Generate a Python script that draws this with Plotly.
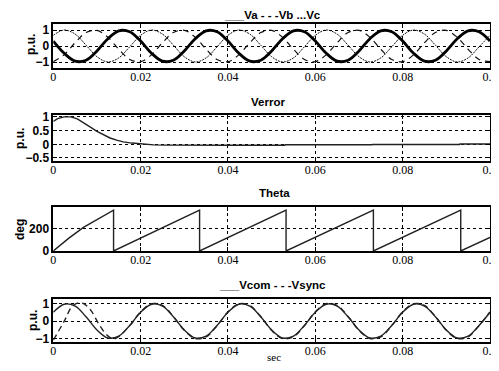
import plotly.graph_objects as go

# ---------------- data ----------------
t = [0.0, 0.0025, 0.005, 0.0075, 0.01, 0.0125, 0.015, 0.0175,
     0.02, 0.0225, 0.025, 0.0275, 0.03, 0.0325, 0.035, 0.0375,
     0.04, 0.0425, 0.045, 0.0475, 0.05, 0.0525, 0.055, 0.0575,
     0.06, 0.0625, 0.065, 0.0675, 0.07, 0.0725, 0.075, 0.0775,
     0.08, 0.0825, 0.085, 0.0875, 0.09, 0.0925, 0.095, 0.0975, 0.1]

va = [0.309, -0.454, -0.951, -0.891, -0.309, 0.454, 0.951, 0.891,
      0.309, -0.454, -0.951, -0.891, -0.309, 0.454, 0.951, 0.891,
      0.309, -0.454, -0.951, -0.891, -0.309, 0.454, 0.951, 0.891,
      0.309, -0.454, -0.951, -0.891, -0.309, 0.454, 0.951, 0.891,
      0.309, -0.454, -0.951, -0.891, -0.309, 0.454, 0.951, 0.891, 0.309]
vb = [-0.978, -0.545, 0.208, 0.839, 0.978, 0.545, -0.208, -0.839,
      -0.978, -0.545, 0.208, 0.839, 0.978, 0.545, -0.208, -0.839,
      -0.978, -0.545, 0.208, 0.839, 0.978, 0.545, -0.208, -0.839,
      -0.978, -0.545, 0.208, 0.839, 0.978, 0.545, -0.208, -0.839,
      -0.978, -0.545, 0.208, 0.839, 0.978, 0.545, -0.208, -0.839, -0.978]
vc = [0.669, 0.999, 0.743, 0.052, -0.669, -0.999, -0.743, -0.052,
      0.669, 0.999, 0.743, 0.052, -0.669, -0.999, -0.743, -0.052,
      0.669, 0.999, 0.743, 0.052, -0.669, -0.999, -0.743, -0.052,
      0.669, 0.999, 0.743, 0.052, -0.669, -0.999, -0.743, -0.052,
      0.669, 0.999, 0.743, 0.052, -0.669, -0.999, -0.743, -0.052, 0.669]

t_err = [0.0, 0.001, 0.0025, 0.004, 0.0055, 0.007, 0.0085, 0.01, 0.0115,
         0.013, 0.0145, 0.016, 0.018, 0.02, 0.023, 0.026, 0.03, 0.04,
         0.053, 0.0531, 0.073, 0.0731, 0.093, 0.0931, 0.1]
v_err = [0.84, 0.94, 1.0, 1.0, 0.93, 0.79, 0.63, 0.47, 0.34,
         0.23, 0.15, 0.09, 0.045, 0.01, -0.02, -0.03, -0.035, -0.035,
         -0.035, -0.015, -0.015, -0.005, -0.005, 0.01, 0.01]

t_theta = [0.0, 0.0035, 0.0069, 0.0105, 0.0138, 0.0138, 0.0335, 0.0335,
           0.0533, 0.0533, 0.0733, 0.0733, 0.0933, 0.0933, 0.1]
theta = [0, 112, 209, 290, 362, 0, 362, 0,
         362, 0, 362, 0, 362, 0, 120]

vcom = [0.509, 0.969, 0.861, 0.249, -0.509, -0.969, -0.861, -0.249,
        0.509, 0.969, 0.861, 0.249, -0.509, -0.969, -0.861, -0.249,
        0.509, 0.969, 0.861, 0.249, -0.509, -0.969, -0.861, -0.249,
        0.509, 0.969, 0.861, 0.249, -0.509, -0.969, -0.861, -0.249,
        0.509, 0.969, 0.861, 0.249, -0.509, -0.969, -0.861, -0.249, 0.509]

t_sync = [0.0, 0.0025, 0.0045, 0.0065, 0.0085, 0.0105, 0.0125, 0.014,
          0.0175, 0.02, 0.0225, 0.025, 0.0275, 0.03, 0.0325, 0.035, 0.0375,
          0.04, 0.0425, 0.045, 0.0475, 0.05, 0.0525, 0.055, 0.0575,
          0.06, 0.0625, 0.065, 0.0675, 0.07, 0.0725, 0.075, 0.0775,
          0.08, 0.0825, 0.085, 0.0875, 0.09, 0.0925, 0.095, 0.0975, 0.1]
vsync = [-1.1, 0.0, 0.9, 1.05, 0.65, -0.2, -0.85, -1.02,
         -0.26, 0.53, 1.0, 0.9, 0.26, -0.53, -1.0, -0.9, -0.26,
         0.53, 1.0, 0.9, 0.26, -0.53, -1.0, -0.9, -0.26,
         0.53, 1.0, 0.9, 0.26, -0.53, -1.0, -0.9, -0.26,
         0.53, 1.0, 0.9, 0.26, -0.53, -1.0, -0.9, -0.26, 0.53]

x_ticks = [0, 0.02, 0.04, 0.06, 0.08, 0.1]
x_ticklabels = ["0", "0.02", "0.04", "0.06", "0.08", "0.1"]

titles = ["___Va - - -Vb ...Vc", "Verror", "Theta", "___Vcom - - -Vsync"]
ylabels = ["p.u.", "p.u.", "deg", "p.u."]

# ---------------- layout helpers ----------------
# the page body has an 8px default margin; the figure is sized to fill the rest
OFF = 8
W, H = 499 - OFF, 371 - OFF
def px(x):
    return (x - OFF) / W
def py(y):
    return 1 - (y - OFF) / H

x_dom = [px(53.3), px(490)]
y_doms = [(24, 68), (115, 161), (207, 251), (299, 342)]

fig = go.Figure()
BLK = "black"

def add(x, y, k, **line):
    fig.add_trace(go.Scatter(x=x, y=y, mode="lines", line=line,
                             xaxis="x" if k == 0 else f"x{k+1}",
                             yaxis="y" if k == 0 else f"y{k+1}",
                             showlegend=False, hoverinfo="skip"))

add(t, vc, 0, color="#111", width=1.0, dash="2px,1px", shape="spline")
add(t, vb, 0, color="#111", width=1.2, dash="6px,5px", shape="spline")
add(t, va, 0, color=BLK, width=2.8, shape="spline")
add(t_err, v_err, 1, color="#222", width=1.4)
add(t_theta, theta, 2, color="#222", width=1.4)
add(t, vcom, 3, color="#222", width=1.4, shape="spline")
add(t_sync, vsync, 3, color="#222", width=1.4, dash="6px,4px", shape="spline")

yranges = [[-1.375, 1.375], [-0.61, 1.07], [0, 390], [-1.2, 1.27]]
yticks = [[-1, 0, 1], [-0.5, 0, 0.5, 1], [0, 200], [-1, 0, 1]]

layout = dict(width=W, height=H, margin=dict(l=0, r=0, t=0, b=0, pad=0),
              paper_bgcolor="white", plot_bgcolor="white", showlegend=False)
for k in range(4):
    xs = "xaxis" if k == 0 else f"xaxis{k+1}"
    ys = "yaxis" if k == 0 else f"yaxis{k+1}"
    layout[xs] = dict(domain=x_dom, range=[0, 0.1], anchor="y" if k == 0 else f"y{k+1}",
                      automargin=False, ticklabelstandoff=-3,
                      tickvals=x_ticks, ticktext=x_ticklabels, ticks="inside", ticklen=4,
                      tickcolor=BLK, showline=True, linecolor=BLK, linewidth=1.5,
                      mirror="ticks", showgrid=True, gridcolor=BLK, griddash="dot",
                      gridwidth=1, zeroline=False,
                      tickfont=dict(family="Liberation Serif", size=12, color=BLK))
    layout[ys] = dict(domain=[py(y_doms[k][1]), py(y_doms[k][0])], range=yranges[k],
                      anchor="x" if k == 0 else f"x{k+1}", automargin=False,
                      tickvals=yticks[k], ticks="inside", ticklen=4, tickcolor=BLK,
                      showline=True, linecolor=BLK, linewidth=1.5, mirror="ticks",
                      showgrid=True, gridcolor=BLK, griddash="dot", gridwidth=1,
                      zeroline=False,
                      tickfont=dict(family="Liberation Sans", size=12, color=BLK, weight="bold"))
fig.update_layout(**layout)

title_pos = [(272, 15), (268, 102), (274, 193), (272, 285)]
ylab_pos = [(31, 45), (20, 139), (20, 230), (33, 321)]
for k in range(4):
    fig.add_annotation(x=px(title_pos[k][0]), y=py(title_pos[k][1]), xref="paper", yref="paper",
                       text=titles[k], showarrow=False, xanchor="center", yanchor="middle",
                       font=dict(family="Liberation Sans", size=11.5, color=BLK, weight="bold"))
    fig.add_annotation(x=px(ylab_pos[k][0]), y=py(ylab_pos[k][1]), xref="paper", yref="paper",
                       text=ylabels[k], showarrow=False, textangle=-90,
                       xanchor="center", yanchor="middle",
                       font=dict(family="Liberation Sans", size=12, color=BLK, weight="bold"))
fig.add_annotation(x=px(274), y=py(357), xref="paper", yref="paper", text="sec",
                   showarrow=False, xanchor="center", yanchor="middle",
                   font=dict(family="Liberation Serif", size=11, color=BLK))

fig.write_html("out.html")
